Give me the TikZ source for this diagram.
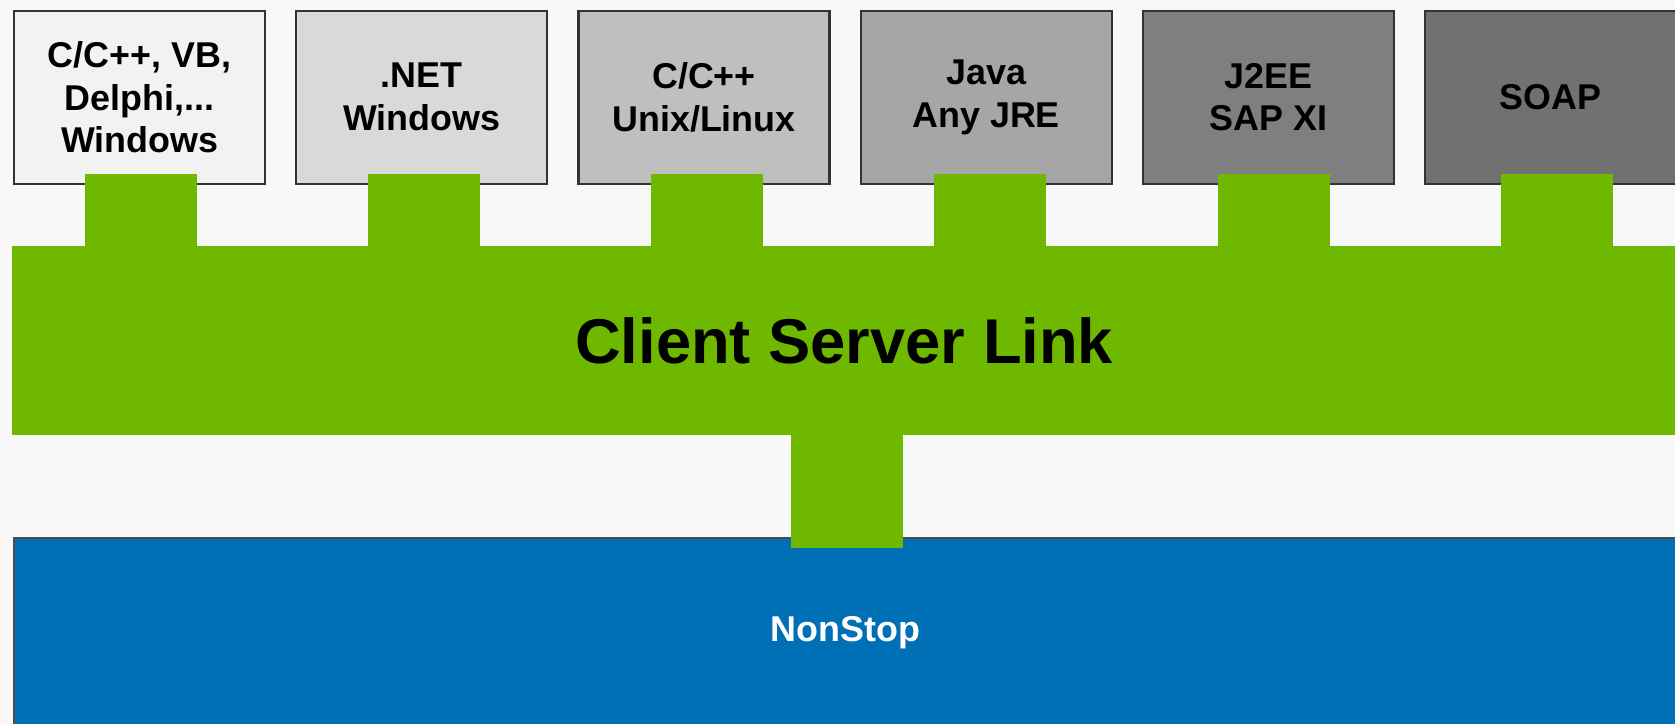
\documentclass[tikz,border=0pt]{standalone}
\usepackage{fontspec}
\setmainfont{Liberation Sans}
\definecolor{bgc}{HTML}{F8F8F8}
\definecolor{grn}{HTML}{6FB800}
\definecolor{blu}{HTML}{0070B6}
\definecolor{g1}{HTML}{F2F2F2}
\definecolor{g2}{HTML}{D9D9D9}
\definecolor{g3}{HTML}{BFBFBF}
\definecolor{g4}{HTML}{A6A6A6}
\definecolor{g5}{HTML}{7F7F7F}
\definecolor{g6}{HTML}{717171}
\begin{document}
\begin{tikzpicture}[x=1bp,y=-1bp,
  techbox/.style={draw=black!80, line width=2.2bp, minimum width=251bp, minimum height=173bp,
    anchor=north west, inner sep=0pt, align=center,
    font=\bfseries\fontsize{36}{43}\selectfont},
  tab/.style={grn, line width=112bp, line cap=butt},
  bustext/.style={font=\bfseries\fontsize{63.5}{70}\selectfont}]
\fill[bgc] (0,0) rectangle (1675,724);
\clip (0,0) rectangle (1675,724);
\useasboundingbox (0,0) rectangle (1675,724);
% NonStop platform
\node[draw=black!70, line width=2.2bp, fill=blu, anchor=north west, minimum width=1663bp,
  minimum height=190bp, inner sep=0pt, text=white, font=\bfseries\fontsize{36}{43}\selectfont]
  (ns) at (13,537) {\raisebox{4bp}{NonStop}};
% technology boxes
\node[techbox, fill=g1] (b0) at (13,9.6) {C/C++, VB,\\Delphi,...\\Windows};
\node[techbox, fill=g2] (b1) at (295.2,9.6) {.NET\\Windows};
\node[techbox, fill=g3] (b2) at (577.4,9.6) {C/C++\\Unix/Linux};
\node[techbox, fill=g4] (b3) at (859.6,9.6) {Java\\Any JRE};
\node[techbox, fill=g5] (b4) at (1141.8,9.6) {J2EE\\SAP XI};
\node[techbox, fill=g6] (b5) at (1424,9.6) {SOAP};
% bus
\node[fill=grn, anchor=north west, minimum width=1664bp, minimum height=189bp, inner sep=0pt,
  bustext] (bus) at (12,246) {Client Server Link};
% tabs
\foreach \i/\off in {0/0.9,1/2.0,2/3.1,3/4.2,4/5.3,5/6.4}{
  \draw[tab, shorten <=-11bp, shorten >=-2bp] ([xshift=\off bp]b\i.south) -- ([xshift=\off bp]b\i.south |- bus.north);
}
% link to NonStop
\draw[tab, shorten <=-2bp, shorten >=-11bp] ([xshift=3bp]bus.south) -- ([xshift=3bp]bus.south |- ns.north);
\end{tikzpicture}
\end{document}
